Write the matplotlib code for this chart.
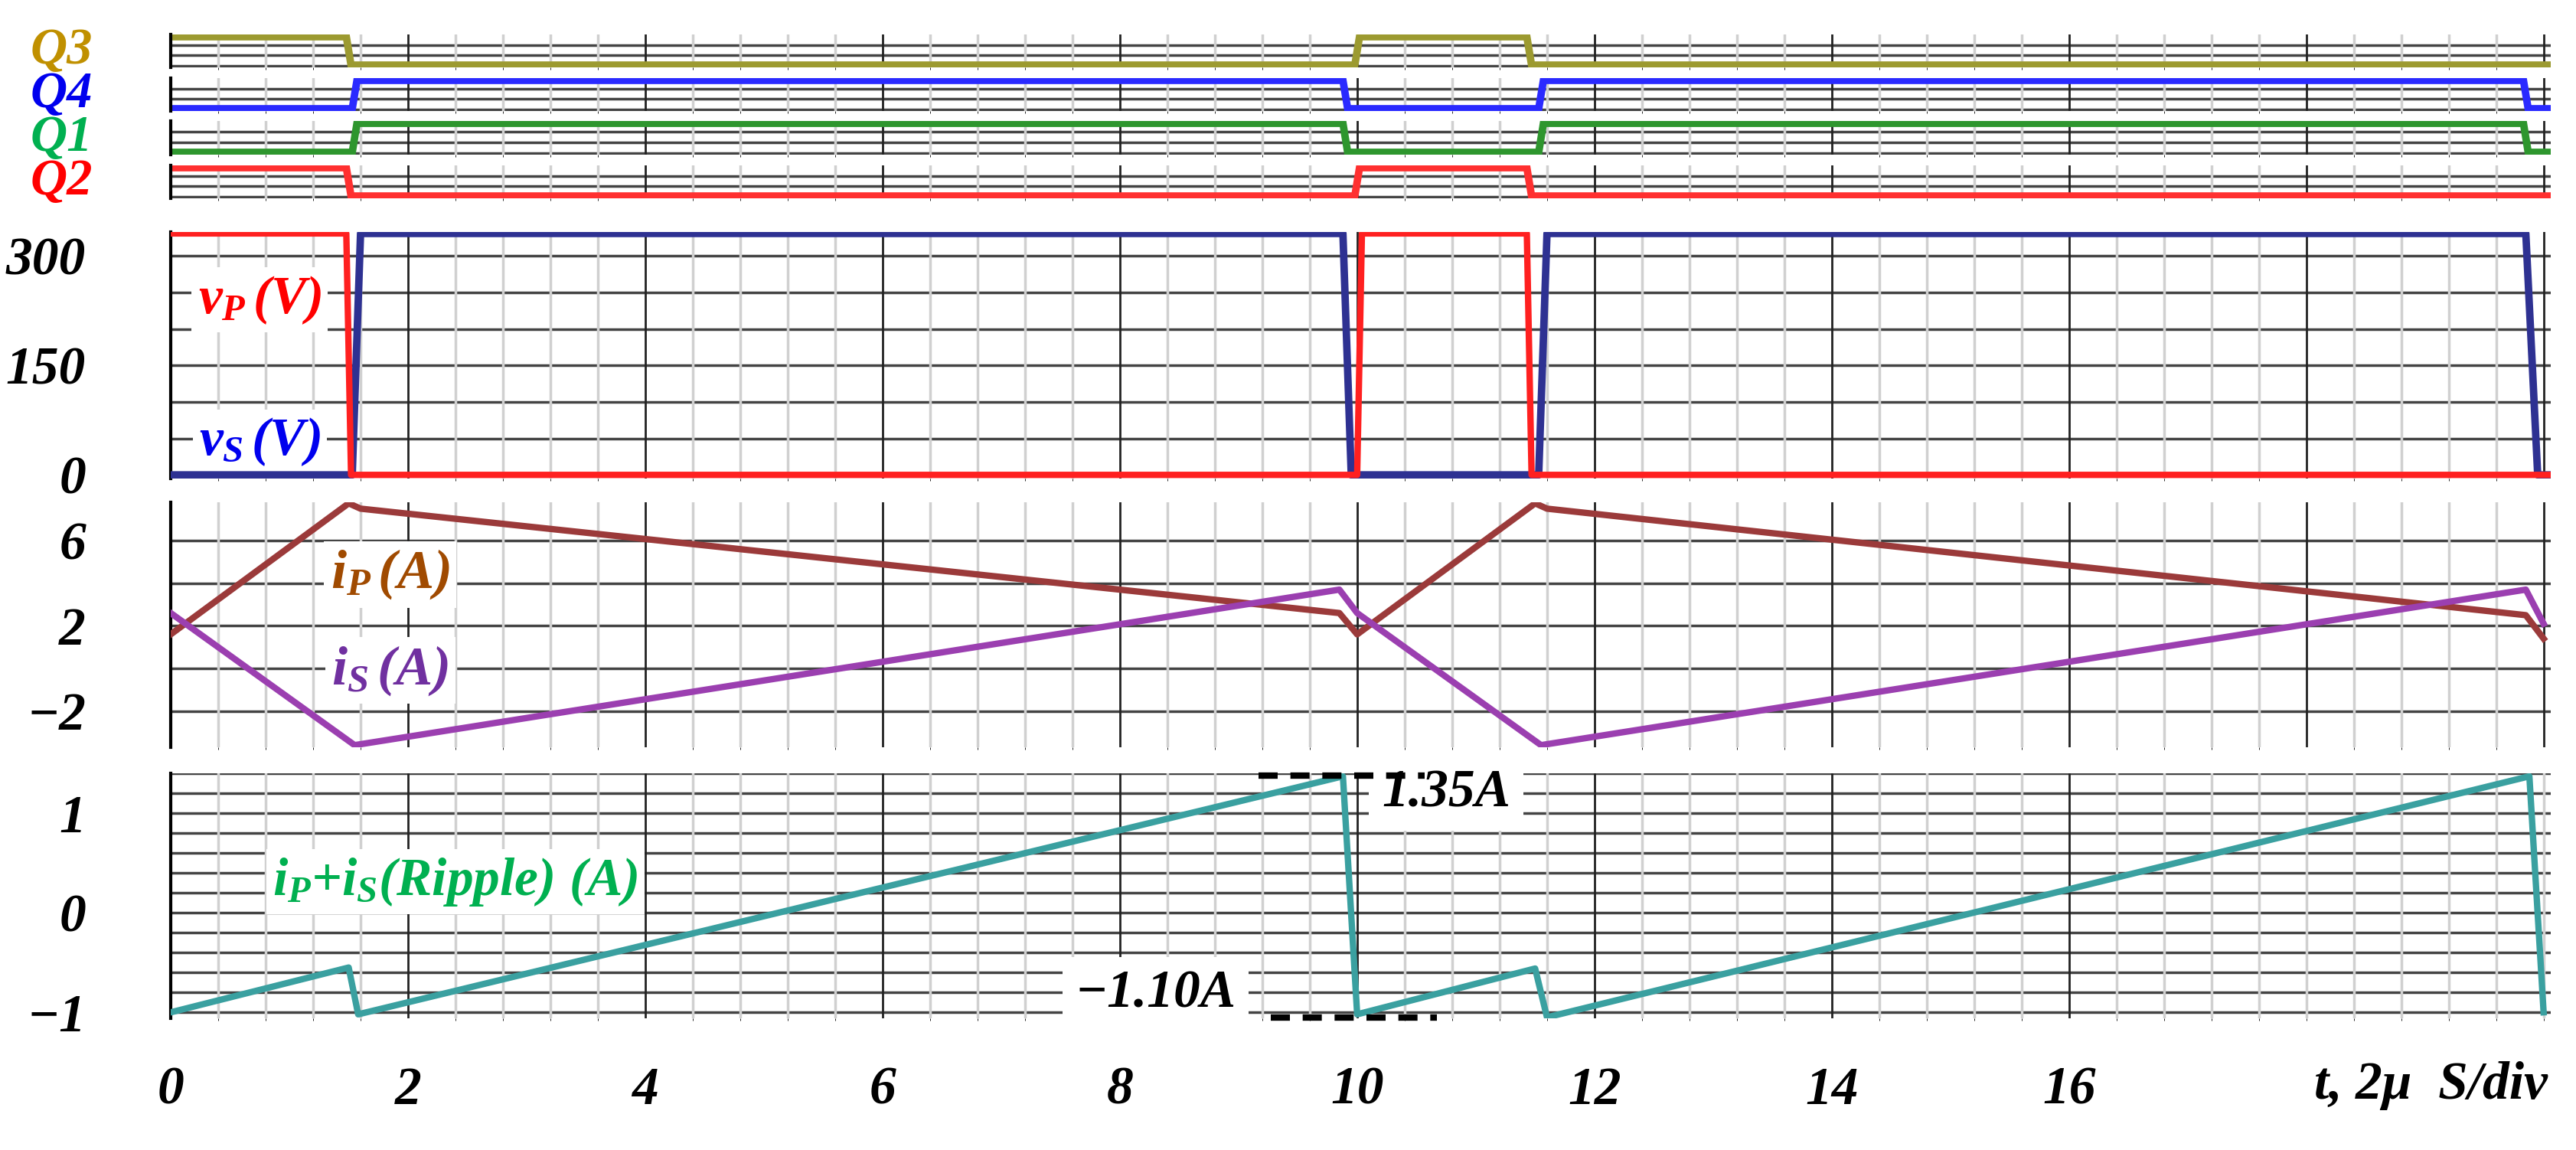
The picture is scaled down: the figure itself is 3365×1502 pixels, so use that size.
import numpy as np
import matplotlib
matplotlib.use("Agg")
import matplotlib.pyplot as plt
from matplotlib.ticker import MultipleLocator

plt.rcParams["font.family"] = "Liberation Serif"
plt.rcParams["font.style"] = "italic"
plt.rcParams["font.weight"] = "bold"
plt.rcParams["mathtext.fontset"] = "custom"
plt.rcParams["mathtext.rm"] = "Liberation Serif:italic:bold"
plt.rcParams["mathtext.it"] = "Liberation Serif:italic:bold"
plt.rcParams["mathtext.bf"] = "Liberation Serif:italic:bold"

# ── Datos (t en divisiones de 2 uS) ─────────────────────────────────────
t_q3 = [0, 1.48, 1.52, 9.98, 10.02, 11.43, 11.47, 20.06]
q3 = [1, 1, 0, 0, 1, 1, 0, 0]
t_q4 = [0, 1.53, 1.57, 9.88, 9.92, 11.53, 11.57, 19.83, 19.87, 20.06]
q4 = [0, 0, 1, 1, 0, 0, 1, 1, 0, 0]
q1 = q4
t_q2 = t_q3
q2 = q3

t_vp = [0, 1.48, 1.52, 10.0, 10.04, 11.43, 11.47, 20.06]
vp = [331, 331, 0, 0, 331, 331, 0, 0]
t_vs = [0, 1.53, 1.6, 9.88, 9.95, 11.53, 11.6, 19.85, 19.95, 20.06]
vs = [0, 0, 331, 331, 0, 0, 331, 331, 0, 0]

t_ip = [0, 1.5, 1.6, 9.85, 10.0, 11.5, 11.6, 19.85, 20.0]
ip = [1.6, 7.75, 7.5, 2.6, 1.6, 7.75, 7.5, 2.5, 1.4]
t_is = [0, 1.55, 9.85, 10.0, 11.55, 19.85, 20.0]
i_s = [2.6, -3.6, 3.7, 2.6, -3.6, 3.7, 2.1]

t_rip = [0, 1.5, 1.58, 9.88, 10.0, 11.5, 11.6, 19.88, 20.0]
rip = [-1.0, -0.55, -1.02, 1.37, -1.02, -0.56, -1.05, 1.37, -1.0]

x_ticks = [0, 2, 4, 6, 8, 10, 12, 14, 16]
v_ticks = [0, 150, 300]
i_ticks = [-2, 2, 6]
r_ticks = [-1, 0, 1]

W, H = 3365, 1502
fig = plt.figure(figsize=(W / 100, H / 100), dpi=100)
X0, X1 = 223, 3332
BOX = dict(facecolor="white", edgecolor="none", pad=6)


def panel(y0, y1):
    ax = fig.add_axes([X0 / W, 1 - y1 / H, (X1 - X0) / W, (y1 - y0) / H])
    ax.set_xlim(0, 20.06)
    ax.xaxis.set_major_locator(MultipleLocator(2))
    ax.xaxis.set_minor_locator(MultipleLocator(0.4))
    ax.grid(True, which="minor", axis="x", color="#d0d0d0", lw=2.5)
    ax.grid(True, which="major", axis="x", color="#222222", lw=2)
    for s in ["top", "right", "bottom"]:
        ax.spines[s].set_visible(False)
    ax.spines["left"].set_linewidth(3)
    ax.tick_params(length=0, labelbottom=False, labelleft=False)
    ax.set_axisbelow(True)
    return ax


def hlines(ax, levels):
    for lv in levels:
        ax.axhline(lv, color="#444444", lw=2.5, zorder=0.5)


def ylabels(ax, ticks, texts):
    ax.set_yticks(ticks)
    ax.set_yticklabels(texts, fontsize=50)
    ax.tick_params(axis="y", labelleft=True, pad=80)
    for lb in ax.get_yticklabels():
        lb.set_horizontalalignment("right")


# ── Senales de compuerta ────────────────────────────────────────────────
gates = [
    ("Q3", t_q3, q3, "#9c9a30", "#c09000", 45, 88),
    ("Q4", t_q4, q4, "#2a2aff", "#0000ee", 102, 145),
    ("Q1", t_q4, q1, "#2e962e", "#00b050", 158, 202),
    ("Q2", t_q2, q2, "#ff3030", "#ff0000", 216, 259),
]
for name, tt, yy, col, lcol, y0, y1 in gates:
    ax = panel(y0, y1)
    ax.set_ylim(-0.08, 1.08)
    hlines(ax, [-0.02, 0.35, 0.7])
    ax.plot(tt, yy, color=col, lw=7, solid_joinstyle="miter")
    fig.text(80 / W, 1 - (y0 + y1) / 2 / H, name, color=lcol, fontsize=48,
             ha="center", va="center")

# ── Tensiones ───────────────────────────────────────────────────────────
ax = panel(303, 625)
ax.set_ylim(-5, 333)
hlines(ax, [0, 50, 100, 150, 200, 250, 300])
ax.plot(t_vs, vs, color="#2e3192", lw=7, zorder=3)
ax.plot(t_vp, vp, color="#ff2020", lw=6, zorder=3)
ylabels(ax, v_ticks, [str(v) for v in v_ticks])
ax.text(0.75, 240, r"$v_P\,(V)$", color="#ff0000", fontsize=50, ha="center",
        va="center", bbox=BOX, zorder=1)
ax.text(0.75, 45, r"$v_S\,(V)$", color="#0000ee", fontsize=50, ha="center",
        va="center", bbox=BOX, zorder=1)

# ── Corrientes ──────────────────────────────────────────────────────────
ax = panel(656, 976)
ax.set_ylim(-3.7, 7.8)
hlines(ax, [-2, 0, 2, 4, 6])
ax.plot(t_ip, ip, color="#9b3a3a", lw=6, zorder=3)
ax.plot(t_is, i_s, color="#9b3fb0", lw=6, zorder=3)
ylabels(ax, i_ticks, ["\u22122", "2", "6"])
ax.text(1.85, 4.4, r"$i_P\,(A)$", color="#a04a00", fontsize=52, ha="center",
        va="center", bbox=BOX, zorder=1)
ax.text(1.85, -0.1, r"$i_S\,(A)$", color="#7030a0", fontsize=52, ha="center",
        va="center", bbox=BOX, zorder=1)

# ── Rizado ──────────────────────────────────────────────────────────────
ax = panel(1010, 1330)
ax.set_ylim(-1.06, 1.4)
hlines(ax, np.arange(-1.0, 1.41, 0.2))
ax.plot(t_rip, rip, color="#3aa0a0", lw=6, zorder=3)
ylabels(ax, r_ticks, ["\u22121", "0", "1"])
ax.tick_params(axis="x", labelbottom=True, pad=45)
ax.set_xticks(x_ticks)
ax.set_xticklabels([str(v) for v in x_ticks], fontsize=50)
ax.text(2.4, 0.31, r"$i_P$+$i_S$(Ripple) (A)", color="#00b050", fontsize=50,
        ha="center", va="center", bbox=BOX, zorder=1)
ax.plot([9.17, 10.57], [1.38, 1.38], color="black", lw=6, ls=(0, (3, 2)),
        clip_on=False, zorder=3)
ax.plot([9.27, 10.67], [-1.05, -1.05], color="black", lw=6, ls=(0, (3, 2)),
        clip_on=False, zorder=3)
ax.text(10.75, 1.2, "1.35A", fontsize=50, ha="center", va="center",
        bbox=dict(facecolor="white", edgecolor="none", pad=12), zorder=1)
ax.text(8.3, -0.82, "\u22121.10A", fontsize=50, ha="center", va="center",
        bbox=dict(facecolor="white", edgecolor="none", pad=12), zorder=1)
fig.text(3175 / W, 1 - 1418 / H, "t, 2\u03bc  S/div", fontsize=50,
         ha="center", va="center")

fig.savefig("out.png", dpi=100)
